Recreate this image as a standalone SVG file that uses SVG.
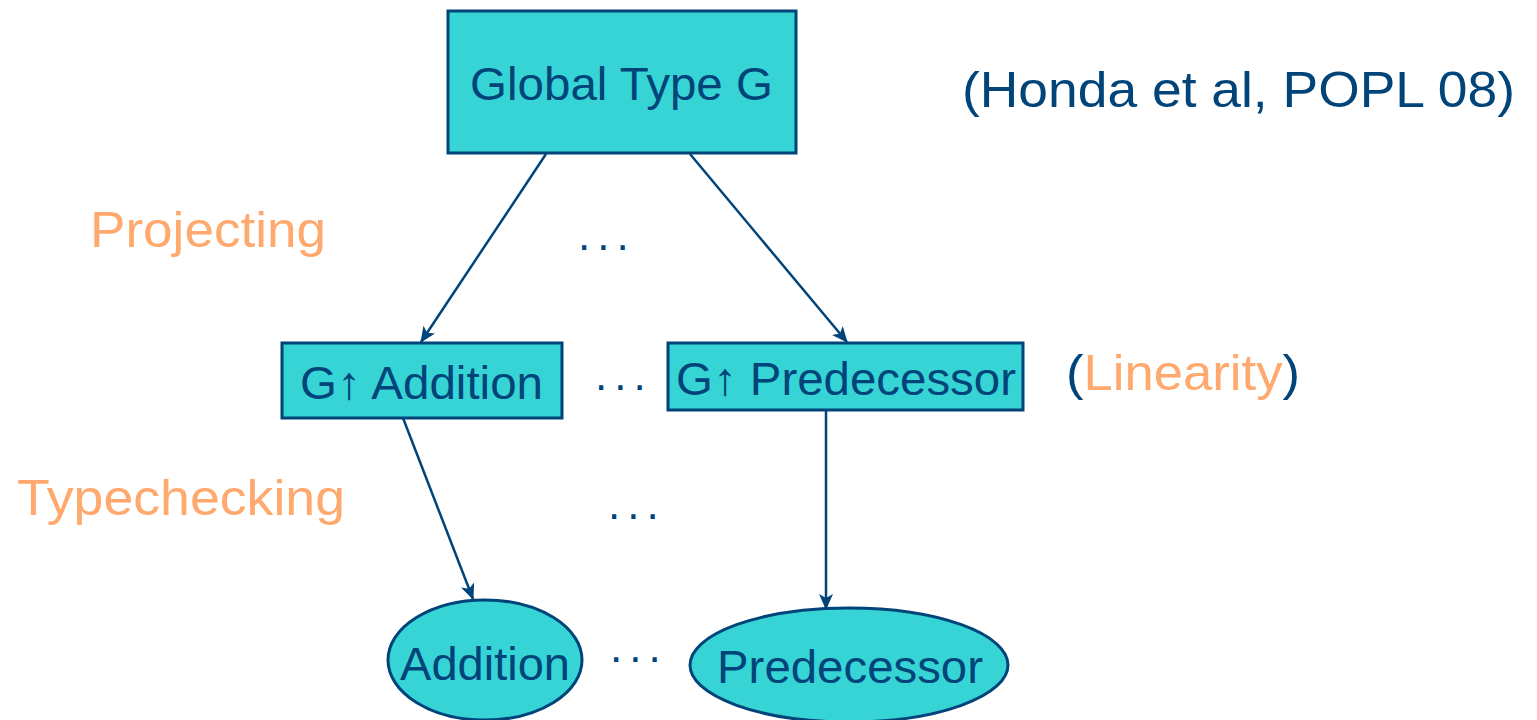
<svg xmlns="http://www.w3.org/2000/svg" width="1537" height="720" viewBox="0 0 1537 720">
<defs>
<style>
.node{fill:#37D4D6;stroke:#004479;stroke-width:3}
.t{font-family:"Liberation Sans",Arial,sans-serif;fill:#004479}
.o{font-family:"Liberation Sans",Arial,sans-serif;fill:#FFA96E}
.dots{font-family:"Liberation Sans",Arial,sans-serif;fill:#004479;font-size:44px;letter-spacing:7px}
.edge{stroke:#004479;stroke-width:2.5;fill:none;marker-end:url(#arr)}
</style>
<marker id="arr" viewBox="0 0 16 14" refX="15" refY="7" markerWidth="16" markerHeight="14" markerUnits="userSpaceOnUse" orient="auto">
<path d="M0,0 L16,7 L0,14 L4,7 Z" fill="#004479"/>
</marker>
</defs>
<rect width="1537" height="720" fill="#fff"/>
<g id="edges">
<line class="edge" x1="546" y1="154" x2="421" y2="342"/>
<line class="edge" x1="690" y1="154" x2="847" y2="342"/>
<line class="edge" x1="403" y1="418" x2="473" y2="599"/>
<line class="edge" x1="826" y1="410" x2="826" y2="609"/>
</g>
<g id="global">
<rect class="node" x="448" y="11" width="348" height="142"/>
<text class="t" x="470" y="100" font-size="46" textLength="303" lengthAdjust="spacingAndGlyphs">Global Type G</text>
</g>
<g id="projAddition">
<rect class="node" x="282" y="343" width="280" height="75"/>
<text class="t" x="300" y="399" font-size="46" textLength="243" lengthAdjust="spacingAndGlyphs">G↑ Addition</text>
</g>
<g id="projPredecessor">
<rect class="node" x="668" y="343" width="355" height="67"/>
<text class="t" x="676" y="395" font-size="46" textLength="340" lengthAdjust="spacingAndGlyphs">G↑ Predecessor</text>
</g>
<g id="addition">
<ellipse class="node" cx="485" cy="660" rx="97" ry="60"/>
<text class="t" x="400" y="680" font-size="46" textLength="170" lengthAdjust="spacingAndGlyphs">Addition</text>
</g>
<g id="predecessor">
<ellipse class="node" cx="849" cy="665" rx="159" ry="57"/>
<text class="t" x="717" y="683" font-size="46" textLength="266" lengthAdjust="spacingAndGlyphs">Predecessor</text>
</g>
<g id="labels">
<text class="o" x="90" y="247" font-size="50" textLength="236" lengthAdjust="spacingAndGlyphs">Projecting</text>
<text class="o" x="17" y="515" font-size="50" textLength="328" lengthAdjust="spacingAndGlyphs">Typechecking</text>
<text class="t" x="962" y="107" font-size="50" textLength="553" lengthAdjust="spacingAndGlyphs">(Honda et al, POPL 08)</text>
<text class="t" x="1066" y="390" font-size="50" textLength="234" lengthAdjust="spacingAndGlyphs">(<tspan class="o">Linearity</tspan>)</text>
<text class="dots" x="578" y="250">...</text>
<text class="dots" x="595" y="390">...</text>
<text class="dots" x="608" y="519">...</text>
<text class="dots" x="610" y="662">...</text>
</g>
</svg>
